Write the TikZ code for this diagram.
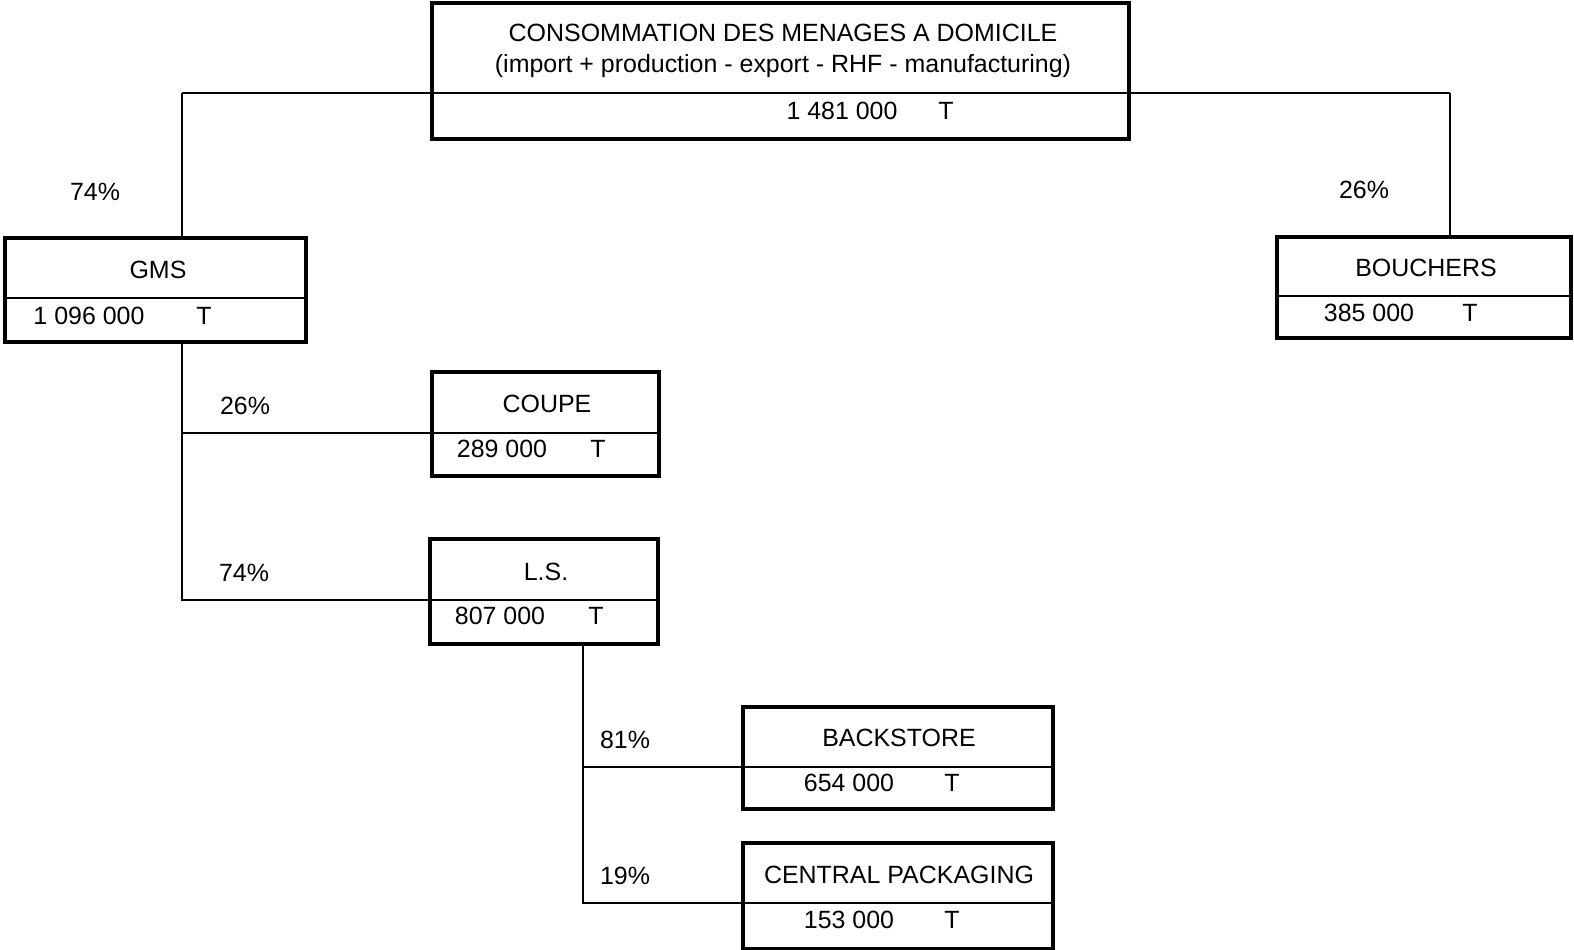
\documentclass[tikz,border=0pt]{standalone}
\usepackage{fontspec}
\setmainfont{Liberation Sans}
\usetikzlibrary{positioning, calc}

\begin{document}
\begin{tikzpicture}[
    x=0.1mm, y=-0.1mm,
    box/.style={draw, rectangle, line width=0.9pt, inner sep=0pt, outer sep=0pt},
    link/.style={line width=0.45pt},
    txt/.style={inner sep=0pt, font=\fontsize{7.1}{8.5}\selectfont}
]
    \useasboundingbox (0,0) rectangle (1574,950);

    % ================= BOXES =================
    \node[box, minimum width=69.7mm, minimum height=13.6mm] (TOP) at (780.5, 71) {};
    \node[box, minimum width=30.1mm, minimum height=10.4mm] (GMS) at (155.5, 290) {};
    \node[box, minimum width=29.4mm, minimum height=10.1mm] (BOUCH) at (1424, 287.5) {};
    \node[box, minimum width=22.7mm, minimum height=10.4mm] (COUPE) at (545.5, 424) {};
    \node[box, minimum width=22.8mm, minimum height=10.5mm] (LS) at (544, 591.5) {};
    \node[box, minimum width=31.0mm, minimum height=10.2mm] (BACK) at (898, 758) {};
    \node[box, minimum width=31.0mm, minimum height=10.6mm] (CENT) at (898, 896) {};

    % dividers
    \draw[link] (GMS.west |- 0,298) -- (GMS.east |- 0,298);
    \draw[link] (BOUCH.west |- 0,296) -- (BOUCH.east |- 0,296);
    \draw[link] (COUPE.west |- 0,433) -- (COUPE.east |- 0,433);
    \draw[link] (LS.west |- 0,600) -- (LS.east |- 0,600);
    \draw[link] (BACK.west |- 0,767) -- (BACK.east |- 0,767);
    \draw[link] (CENT.west |- 0,903) -- (CENT.east |- 0,903);

    % ================= TEXTS =================
    \node[txt] (TOPa) at (783, 33) {CONSOMMATION DES MENAGES A DOMICILE};
    \node[txt] (TOPb) at (783, 66) {(import + production - export - RHF - manufacturing)};
    \node[txt] (TOPv) at (842, 111) {1 481 000};
    \node[txt] (TOPt) at (946, 111) {T};

    \node[txt] (GMSa) at (158, 270) {GMS};
    \node[txt] (GMSv) at (89, 316) {1 096 000};
    \node[txt] (GMSt) at (204, 316) {T};

    \node[txt] (BOUCHa) at (1426, 268) {BOUCHERS};
    \node[txt] (BOUCHv) at (1369, 313) {385 000};
    \node[txt] (BOUCHt) at (1470, 313) {T};

    \node[txt] (COUPEa) at (547, 404) {COUPE};
    \node[txt] (COUPEv) at (502, 449) {289 000};
    \node[txt] (COUPEt) at (598, 449) {T};

    \node[txt] (LSa) at (546, 572) {L.S.};
    \node[txt] (LSv) at (500, 616) {807 000};
    \node[txt] (LSt) at (596, 616) {T};

    \node[txt] (BACKa) at (899, 738) {BACKSTORE};
    \node[txt] (BACKv) at (849, 783) {654 000};
    \node[txt] (BACKt) at (952, 783) {T};

    \node[txt] (CENTa) at (899, 875) {CENTRAL PACKAGING};
    \node[txt] (CENTv) at (849, 920) {153 000};
    \node[txt] (CENTt) at (952, 920) {T};

    % ================= CONNECTIONS =================
    \coordinate (jL) at (182, 93);
    \coordinate (jR) at (1450, 93);
    \coordinate (jG) at (182, 600);
    \coordinate (jS) at (583, 903);

    \draw[link] (jL) -- (jR);
    \draw[link] (jL) -- (jL |- GMS.north);
    \draw[link] (jR) -- (jR |- BOUCH.north);

    \draw[link] (jL |- GMS.south) -- (jG) -- (jG -| LS.west);
    \draw[link] (jL |- COUPE.west |- 0,433) -- (COUPE.west |- 0,433);

    \draw[link] (jS |- LS.south) -- (jS) -- (jS -| CENT.west);
    \draw[link] (jS |- 0,767) -- (BACK.west |- 0,767);

    % ================= PERCENTAGES =================
    \node[txt] (pGMS) at (95, 192) {74\%};
    \node[txt] (pBOUCH) at (1364, 190) {26\%};
    \node[txt] (pCOUPE) at (245, 406) {26\%};
    \node[txt] (pLS) at (244, 573) {74\%};
    \node[txt] (pBACK) at (625, 740) {81\%};
    \node[txt] (pCENT) at (625, 876) {19\%};

\end{tikzpicture}
\end{document}
